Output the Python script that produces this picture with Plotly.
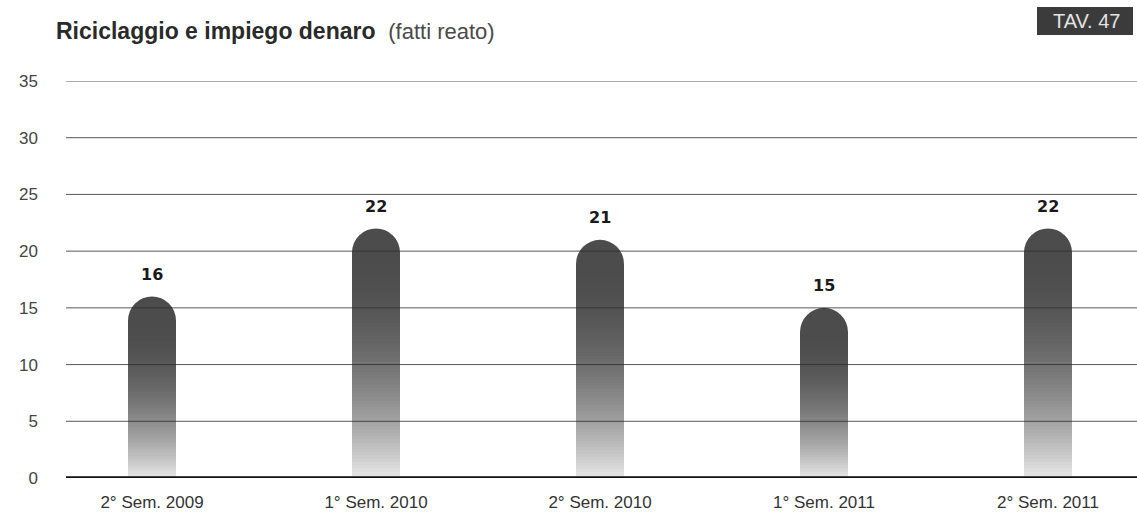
import plotly.graph_objects as go

categories = ["2° Sem. 2009", "1° Sem. 2010", "2° Sem. 2010", "1° Sem. 2011", "2° Sem. 2011"]
values = [16, 22, 21, 15, 22]
y_ticks = [0, 5, 10, 15, 20, 25, 30, 35]

W, H = 1137, 513
ML, MR, MT, MB = 66, 0, 81, 35
YMAX = 35
PW = W - ML - MR
PH = H - MT - MB
px_per_unit = PH / YMAX
BAR_W = 0.214
BAR_PX = BAR_W * 224
R_PX = BAR_PX / 2
r_data = R_PX / px_per_unit

x = list(range(len(categories)))
body = [v - r_data for v in values]

N = 70
fig = go.Figure()
for k in range(N):
    t = (k + 0.5) / N
    g = int(round(76 + (232 - 76) * (1 - t) ** 2))
    col = f"rgb({g},{g},{g})"
    fig.add_trace(go.Bar(
        x=x, y=[b / N for b in body], base=[b * k / N for b in body],
        width=BAR_W, marker=dict(color=col, line=dict(width=0)),
        hoverinfo="skip", showlegend=False))

shapes = []
for xi, b in zip(x, body):
    shapes.append(dict(type="circle", xref="x", yref="y", xsizemode="pixel", ysizemode="pixel",
                       xanchor=xi, yanchor=b, x0=-R_PX, x1=R_PX, y0=-R_PX, y1=R_PX,
                       fillcolor="rgb(76,76,76)", line=dict(width=0), layer="below"))
for yt in y_ticks[1:]:
    shapes.append(dict(type="line", xref="paper", x0=0, x1=1, yref="y", y0=yt, y1=yt,
                       line=dict(color="rgba(45,45,45,0.8)", width=1), layer="above"))
shapes.append(dict(type="line", xref="paper", x0=0, x1=1, yref="y", y0=0, y1=0,
                   line=dict(color="#111", width=3.5), layer="above"))
# TAV box
shapes.append(dict(type="rect", xref="paper", yref="paper",
                   x0=(1037 - ML) / PW, x1=(1133 - ML) / PW,
                   y0=1 + (MT - 35) / PH, y1=1 + (MT - 7) / PH,
                   fillcolor="#3b3b3b", line=dict(width=0), layer="above"))

annotations = []
for xi, v in zip(x, values):
    annotations.append(dict(x=xi, y=v, xref="x", yref="y", text=f"<b>{v}</b>", showarrow=False,
                            yanchor="middle", yshift=22,
                            font=dict(family="DejaVu Sans", size=16, color="#1a1a1a")))
annotations.append(dict(x=(54 - ML) / PW, y=1 + (MT - 31) / PH,
                        xref="paper", yref="paper", xanchor="left", yanchor="middle", showarrow=False,
                        text="<b>Riciclaggio e impiego denaro</b>  <span style='font-size:22px;color:#4a4a4a'>(fatti reato)</span>",
                        font=dict(family="Liberation Sans", size=23, color="#2a2a2a")))
annotations.append(dict(x=(1086 - ML) / PW, y=1 + (MT - 21) / PH,
                        xref="paper", yref="paper", xanchor="center", yanchor="middle", showarrow=False,
                        text="TAV. 47", font=dict(family="Liberation Sans", size=20, color="#e4e4e4")))

fig.update_layout(
    width=W, height=H, margin=dict(l=ML, r=MR, t=MT, b=MB, autoexpand=False),
    paper_bgcolor="white", plot_bgcolor="white",
    barmode="overlay", bargap=0,
    shapes=shapes, annotations=annotations,
    xaxis=dict(range=[(ML - 152) / 224, (W - MR - 152) / 224], tickvals=x, ticktext=categories,
               showgrid=False, zeroline=False, showline=False, ticks="", automargin=False,
               ticklabelstandoff=12,
               tickfont=dict(family="Liberation Sans", size=17, color="#333")),
    yaxis=dict(range=[0, YMAX], tickvals=y_ticks, showgrid=False, zeroline=False, showline=False,
               ticks="", ticklabelstandoff=27, automargin=False,
               tickfont=dict(family="Liberation Sans", size=17, color="#444")),
)
fig.write_html("out.html", config={"displayModeBar": False},
               post_script="document.body.style.margin='0';document.body.style.overflow='hidden';")
